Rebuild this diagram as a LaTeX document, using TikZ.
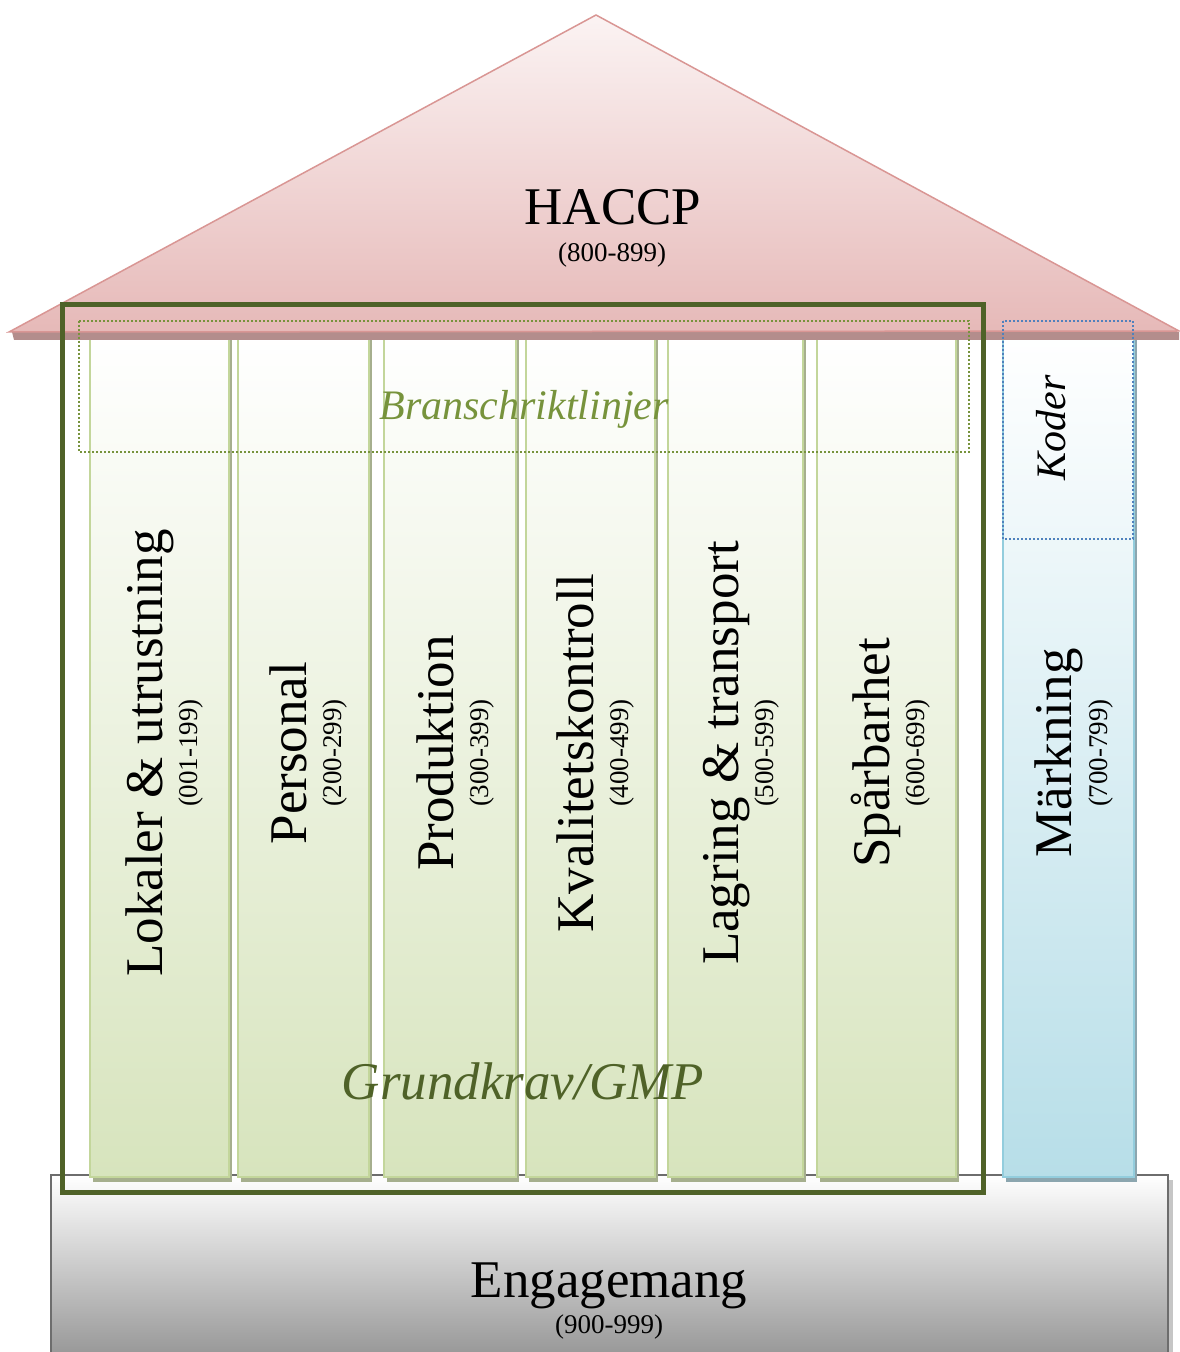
\documentclass[tikz,border=0pt]{standalone}
\usepackage{fontspec}
\setmainfont{Liberation Serif}

\definecolor{roofline}{HTML}{D99694}
\definecolor{rooftop}{HTML}{FBF3F3}
\definecolor{roofbottom}{HTML}{E6B9B8}
\definecolor{roofshade}{HTML}{B38D8C}
\definecolor{pillarline}{HTML}{C3D69B}
\definecolor{pillarfill}{HTML}{D7E4BD}
\definecolor{pillarshade}{HTML}{A6AF8E}
\definecolor{markline}{HTML}{93CDDD}
\definecolor{markfill}{HTML}{B7DEE8}
\definecolor{markshade}{HTML}{8CA6AF}
\definecolor{gmpgreen}{HTML}{4F6228}
\definecolor{branschgreen}{HTML}{77933C}
\definecolor{koderblue}{HTML}{4F81BD}
\definecolor{basegray}{HTML}{6D6D6D}
\definecolor{basebottom}{HTML}{959595}

\tikzset{
  bigtext/.style={font=\fontsize{26.5}{30}\selectfont},
  bigitalic/.style={font=\fontsize{26.5}{30}\selectfont\itshape},
  miditalic/.style={font=\fontsize{21}{24}\selectfont\itshape},
  numtext/.style={font=\fontsize{13.5}{15}\selectfont},
  roof/.style={draw=roofline, line width=0.75pt, top color=rooftop, bottom color=roofbottom},
  pillar/.style={draw=pillarline, line width=1pt, top color=white, bottom color=pillarfill},
  markpillar/.style={draw=markline, line width=1pt, top color=white, bottom color=markfill},
  foundation/.style={draw=basegray, line width=1pt, top color=white, bottom color=basebottom},
  gmpframe/.style={draw=gmpgreen, line width=2.5pt},
  dotbox/.style={line width=0.8pt, dash pattern=on 0.8pt off 1.2pt}
}

\begin{document}
\begin{tikzpicture}[x=0.5pt, y=-0.5pt]
  \useasboundingbox (0,0) rectangle (1179,1352);
  % Foundation
  \fill[gray!45] (1169,1180) rectangle (1173,1360);
  \draw[foundation] (51,1175) rectangle (1168,1360);
  % Pillars
  \foreach \xa/\xb/\name/\range [count=\i] in {
      90/229/Lokaler \& utrustning/(001-199),
      238/369/Personal/(200-299),
      384/516/Produktion/(300-399),
      526/655/Kvalitetskontroll/(400-499),
      668/803/Lagring \& transport/(500-599),
      817/956/Spårbarhet/(600-699)} {
    \fill[pillarshade] (\xa+3,338) rectangle (\xb+3,1182);
    \draw[pillar] (\xa,334) rectangle (\xb,1177);
    \node[bigtext, rotate=90, anchor=base] (pillar\i) at ({(\xa+\xb)/2+3},753) {\name};
    \node[numtext, rotate=90, anchor=base] (range\i) at ({(\xa+\xb)/2+38},753) {\range};
  }
  % Marking pillar
  \fill[markshade] (1006,338) rectangle (1137,1182);
  \draw[markpillar] (1003,334) rectangle (1134,1177);
  \node[bigtext, rotate=90, anchor=base] (mark) at (1071,753) {Märkning};
  \node[numtext, rotate=90, anchor=base] (markrange) at (1107,753) {(700-799)};
  % Roof
  \fill[roofshade] (12,332) -- (1179,332) -- (1179,340) -- (14,340) -- cycle;
  \draw[roof] (596,15) -- (9,332) -- (1179,331) -- cycle;
  \node[bigtext, anchor=base] (haccp) at (613,225) {HACCP};
  \node[numtext, anchor=base] (haccprange) at (612,262) {(800-899)};
  % Boxes
  \draw[dotbox, draw=branschgreen] (79,321) rectangle (969,452);
  \draw[dotbox, draw=koderblue] (1003,321) rectangle (1133,539);
  \draw[gmpframe] (62.5,304.5) rectangle (983.5,1192);
  % Labels
  \node[miditalic, text=branschgreen, anchor=base] (bransch) at (524,420) {Branschriktlinjer};
  \node[miditalic, rotate=90, anchor=base] (koder) at (1065,428) {Koder};
  \node[bigitalic, text=gmpgreen, anchor=base] (gmp) at (523,1099) {Grundkrav/GMP};
  \node[bigtext, anchor=base] (engagemang) at (609,1297) {Engagemang};
  \node[numtext, anchor=base] (engrange) at (609,1333) {(900-999)};
\end{tikzpicture}
\end{document}
